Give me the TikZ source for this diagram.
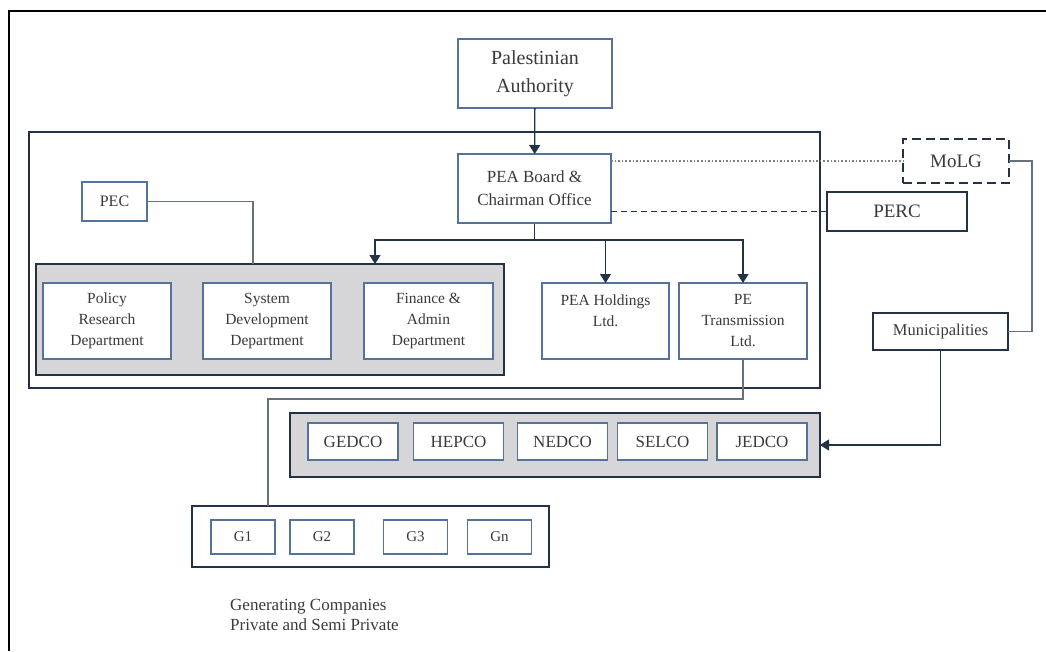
\documentclass[tikz,border=0pt]{standalone}
\usepackage{fontspec}
\setmainfont{Liberation Serif}
\usetikzlibrary{arrows.meta}

\definecolor{boxblue}{RGB}{84,114,156}
\definecolor{navy}{RGB}{36,50,70}
\definecolor{linegray}{RGB}{104,112,124}
\definecolor{panel}{RGB}{214,214,216}
\definecolor{ink}{RGB}{58,58,58}

\tikzset{
  unit/.style={draw=boxblue, line width=1.6pt, fill=white, inner sep=0pt, outer sep=0pt,
    align=center, text=ink, font=\fontsize{15.5}{21}\selectfont},
  body/.style={draw=navy, line width=1.8pt, fill=white, inner sep=0pt, outer sep=0pt,
    align=center, text=ink, font=\fontsize{19}{22}\selectfont},
  group/.style={draw=navy, line width=2.4pt, inner sep=0pt, outer sep=0pt},
  link/.style={draw=navy, line width=1.3pt},
  feed/.style={draw=linegray, line width=1.1pt},
  arr/.style={link, -{Triangle[width=11pt,length=9pt]}},
}

\begin{document}
\begin{tikzpicture}[x=1pt,y=-1pt]
\useasboundingbox (0,0) rectangle (1046,651);

% page frame
\draw[black, line width=2.6pt] (9,651) -- (9,11) -- (1046,11);

% PEA frame and the two grey panels
\node[group, fill=white, minimum width=791, minimum height=256] (pea) at (424.5,260) {};
\node[group, fill=panel, minimum width=468, minimum height=111] (depts) at (270,319.5) {};
\node[group, fill=panel, minimum width=530, minimum height=64] (dist) at (555,445) {};
\node[group, fill=white, minimum width=357, minimum height=61] (gens) at (370.5,536.5) {};

\coordinate (fork) at (534.5,240);
\coordinate (deptin) at (375,264);
\coordinate (pecin) at (253,264);
\coordinate (genin) at (268,506);

% connectors
\draw[link] (534.5,223) -- (fork);
\draw[arr] (fork) -| (deptin);
\draw[feed] (114.5,201.5) -| (pecin);
\draw[feed] (743,359) -- ++(0,40) -| (genin);

\node[unit, minimum width=154, minimum height=69, font=\fontsize{20}{28}\selectfont] (pa) at (535,73.5) {Palestinian\\Authority};
\node[unit, minimum width=153, minimum height=69, font=\fontsize{17}{23}\selectfont] (board) at (534.5,188.5) {PEA Board \&\\Chairman Office};
\node[unit, minimum width=65, minimum height=39, font=\fontsize{16}{19}\selectfont] (pec) at (114.5,201.5) {PEC};

\node[unit, minimum width=128, minimum height=76] (policy) at (107,321) {Policy\\Research\\Department};
\node[unit, minimum width=128, minimum height=76] (system) at (267,321) {System\\Development\\Department};
\node[unit, minimum width=129, minimum height=76] (finance) at (428.5,321) {Finance \&\\Admin\\Department};
\node[unit, minimum width=127, minimum height=76] (holdings) at (605.5,321) {PEA Holdings\\Ltd.\\\phantom{L}};
\node[unit, minimum width=128, minimum height=76] (trans) at (743,321) {PE\\Transmission\\Ltd.};

\node[body, dashed, dash pattern=on 9pt off 5pt, line width=2pt, minimum width=106, minimum height=44] (molg) at (956,161) {MoLG};
\node[body, minimum width=140, minimum height=39] (perc) at (897,211.5) {PERC};
\node[body, minimum width=135, minimum height=37, font=\fontsize{16.5}{19}\selectfont] (muni) at (940.5,331.5) {Municipalities};

\foreach \nm/\xx in {GEDCO/353, HEPCO/458.5, NEDCO/562.5, SELCO/662.5, JEDCO/762}
  \node[unit, minimum width=90, minimum height=37, font=\fontsize{17}{20}\selectfont] (\nm) at (\xx,441.5) {\nm};

\foreach \nm/\xx in {G1/243, G2/322, G3/415.5, Gn/499.5}
  \node[unit, minimum width=64, minimum height=34, font=\fontsize{15}{18}\selectfont] (\nm) at (\xx,537) {\nm};

\node[anchor=north west, align=left, inner sep=0pt, text=ink, font=\fontsize{17}{20}\selectfont] (caption) at (230,599)
  {Generating Companies\\Private and Semi Private};

% links between the boxes
\draw[arr] (pa) -- (board);
\draw[arr] (fork) -| (holdings.north);
\draw[arr] (fork) -| (trans.north);
\draw[gray, dotted, line width=1.6pt] (board.east |- molg.west) -- (molg.west);
\draw[navy, dashed, dash pattern=on 6pt off 4pt, line width=1.4pt] (board.east |- perc.west) -- (perc.west);
\draw[feed] (molg.east) -- ++(23,0) |- (muni.east);
\draw[arr] (muni.south) |- (dist.east);

\end{tikzpicture}
\end{document}
